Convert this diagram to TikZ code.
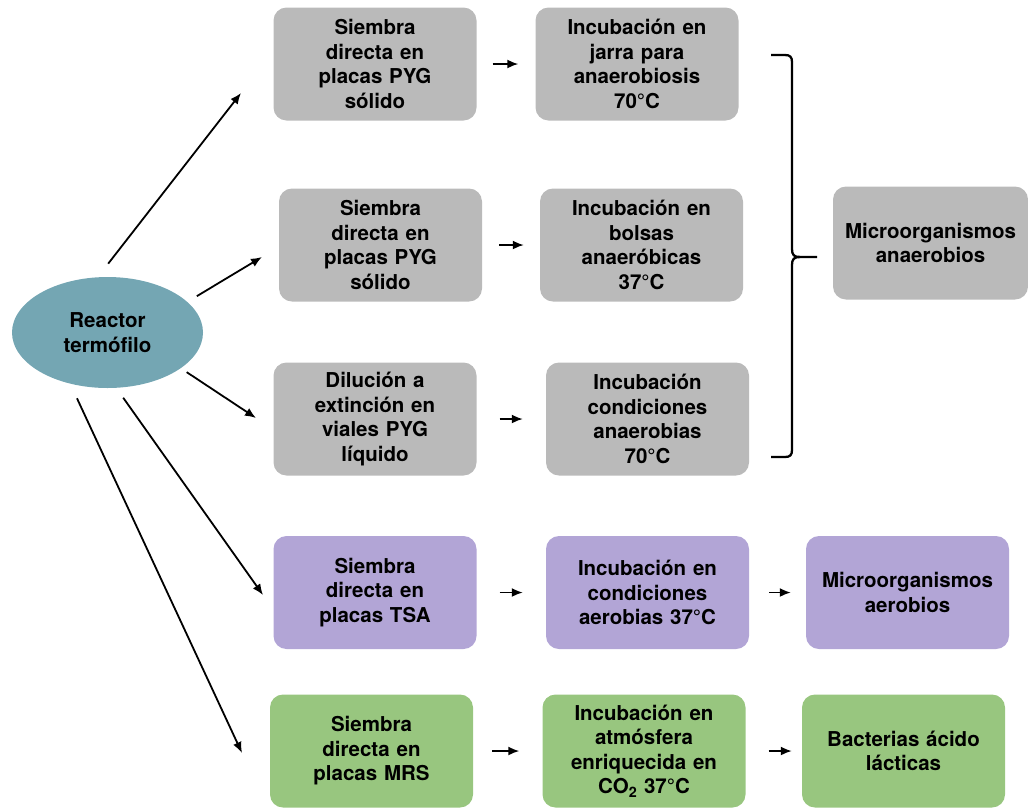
\documentclass[tikz,border=0pt]{standalone}
\usepackage{fontspec}
\setmainfont{TeX Gyre Heros}
\usetikzlibrary{shapes,arrows,arrows.meta}
\definecolor{grisbox}{RGB}{186,186,186}
\definecolor{lilabox}{RGB}{178,165,214}
\definecolor{verdebox}{RGB}{152,198,127}
\definecolor{reactorcol}{RGB}{116,166,179}
\tikzstyle{block} = [rectangle, fill=grisbox, text width=185pt, text centered,
    inner xsep=9pt, rounded corners=13pt, minimum height=113pt,
    font=\fontsize{20.5}{24.5}\selectfont\bfseries]
\tikzstyle{line} = [draw, -{Latex[length=11pt,width=9pt]}, line width=1.8pt]
\tikzstyle{brace} = [draw, line width=2.3pt]

\begin{document}
\begin{tikzpicture}[x=1pt, y=-1pt, node distance=262pt, auto]
	\useasboundingbox (0,0) rectangle (1028,807);

		\node [ellipse, fill=reactorcol, minimum width=191pt, minimum height=111pt, inner sep=0pt,
			align=center, font=\fontsize{20.5}{24.5}\selectfont\bfseries] (reactor) at (107.5,332.5) {Reactor\\termófilo};

		\node [block] (placa1) at (375,64) {Siembra\\directa en\\placas PYG\\sólido};
		\node [block, right of=placa1] (jarra) {Incubación en\\jarra para\\anaerobiosis\\70°C};

		\node [block] (placa2) at (380.5,245) {Siembra\\directa en\\placas PYG\\sólido};
		\node [block, right of=placa2, node distance=261pt] (bolsas) {Incubación en\\bolsas\\anaeróbicas\\37°C};

		\node [block] (viales) at (375,419) {Dilución a\\extinción en\\viales PYG\\líquido};
		\node [block, right of=viales, node distance=272.5pt] (anaer) {Incubación\\condiciones\\anaerobias\\70°C};

		\node [block, text width=177pt] (anaerobios) at (930.5,243) {Microorganismos\\anaerobios};

		\node [block, fill=lilabox] (tsa) at (375,592.5) {Siembra\\directa en\\placas TSA};
		\node [block, fill=lilabox, right of=tsa, node distance=272.5pt] (aerob) {Incubación en\\condiciones\\aerobias 37°C};
		\node [block, fill=lilabox, right of=aerob, node distance=260pt] (aerobios) {Microorganismos\\aerobios};

		\node [block, fill=verdebox] (mrs) at (371.5,751) {Siembra\\directa en\\placas MRS};
		\node [block, fill=verdebox, right of=mrs, node distance=272.5pt] (co2) {Incubación en\\atmósfera\\enriquecida en\\CO\textsubscript{2} 37°C};
		\node [block, fill=verdebox, right of=co2, node distance=259.5pt] (lacticas) {Bacterias ácido\\lácticas};

		\coordinate (t1) at (241,93);
		\coordinate (t2) at (262,257);
		\coordinate (t3) at (256,418);
		\coordinate (t4) at (263,595);
		\coordinate (t5) at (242,753);

		\path [line, shorten <=17pt] (reactor.100) -- (t1);
		\path [line, shorten <=11pt] (reactor.21) -- (t2);
		\path [line, shorten <=7pt] (reactor.334) -- (t3);
		\path [line, shorten <=12pt] (reactor.279) -- (t4);
		\path [line, shorten <=16pt] (reactor.234) -- (t5);

		\path [line, shorten <=16pt, shorten >=17pt] (placa1.east) -- (placa1.east -| jarra.west);
		\path [line, shorten <=17pt, shorten >=16pt] (placa2.east) -- (placa2.east -| bolsas.west);
		\path [line, shorten <=23pt, shorten >=23pt] (viales.east) -- (viales.east -| anaer.west);
		\path [line, shorten <=23pt, shorten >=23pt] (tsa.east) -- (tsa.east -| aerob.west);
		\path [line, shorten <=20pt, shorten >=15pt] (aerob.east) -- (aerob.east -| aerobios.west);
		\path [line, shorten <=19pt, shorten >=23pt] (mrs.east) -- (mrs.east -| co2.west);
		\path [line, shorten <=23pt, shorten >=10pt] (co2.east) -- (co2.east -| lacticas.west);

		\path [brace] (771,55) -- (785,55) .. controls (790,55) and (792,57) .. (792,62)
			-- (792,249) .. controls (792,255) and (794,257) .. (800,257) -- (817,257);
		\path [brace] (771,457) -- (785,457) .. controls (790,457) and (792,455) .. (792,450)
			-- (792,265) .. controls (792,259) and (794,257) .. (800,257);
	\end{tikzpicture}
\end{document}
